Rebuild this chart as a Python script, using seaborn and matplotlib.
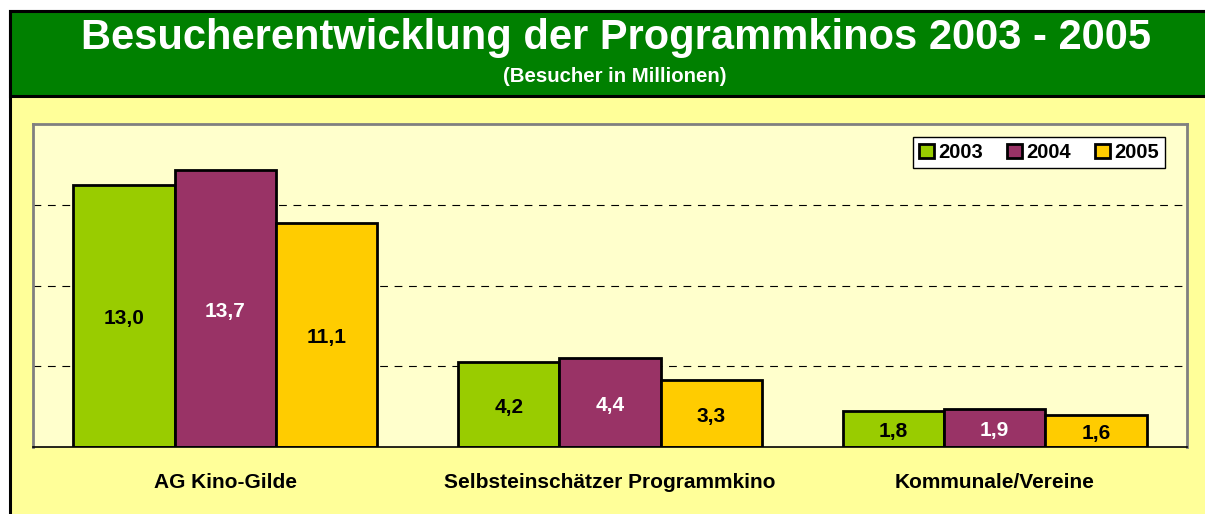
import pandas as pd
import matplotlib
matplotlib.use('Agg')
import matplotlib.pyplot as plt
from matplotlib.patches import Rectangle, Patch
import seaborn as sns

# data
kategorien = ['AG Kino-Gilde', 'Selbsteinschätzer Programmkino', 'Kommunale/Vereine']
jahre = ['2003', '2004', '2005']
besucher_2003 = [13.0, 4.2, 1.8]
besucher_2004 = [13.7, 4.4, 1.9]
besucher_2005 = [11.1, 3.3, 1.6]

farben = ['#99CC00', '#993366', '#FFCC00']
textfarben = ['black', 'white', 'black']

# long format for seaborn
werte = [besucher_2003, besucher_2004, besucher_2005]
rows = []
for jahr, reihe in zip(jahre, werte):
    for kat, v in zip(kategorien, reihe):
        rows.append({'Kategorie': kat, 'Jahr': jahr, 'Besucher': v})
df = pd.DataFrame(rows)

sns.set_style('white')
plt.rcParams['font.family'] = ['Liberation Sans', 'DejaVu Sans']
plt.rcParams['text.color'] = 'black'
plt.rcParams['xtick.color'] = 'black'

W, H = 1205, 514
fig = plt.figure(figsize=(W / 100, H / 100), dpi=100, facecolor='white')

# yellow frame and green header band (behind the axes)
fig.patches.append(Rectangle((10 / W, -0.1), 1.2, 1 - 11 / H + 0.1, transform=fig.transFigure,
                             facecolor='#FFFF99', edgecolor='black', linewidth=2.2, zorder=-10))
fig.patches.append(Rectangle((10 / W, 1 - 96 / H), 1.2, 85 / H, transform=fig.transFigure,
                             facecolor='#008000', edgecolor='black', linewidth=2.2, zorder=-9))
fig.text(616 / W, 1 - 49 / H, 'Besucherentwicklung der Programmkinos 2003 - 2005',
         ha='center', va='baseline', color='white', fontsize=30, fontweight='bold')
fig.text(615 / W, 1 - 82 / H, '(Besucher in Millionen)',
         ha='center', va='baseline', color='white', fontsize=14.7, fontweight='bold')

ax = fig.add_axes([33 / W, 1 - 447 / H, (1187 - 33) / W, 323 / H])
ax.set_facecolor('#FFFFCC')

sns.barplot(data=df, x='Kategorie', y='Besucher', hue='Jahr', palette=farben, saturation=1,
            width=0.79, edgecolor='black', linewidth=2, ax=ax, legend=False)

for cont, reihe, tf in zip(ax.containers, werte, textfarben):
    anns = ax.bar_label(cont, labels=[f'{v:.1f}'.replace('.', ',') for v in reihe],
                        label_type='center', color=tf, fontsize=15, fontweight='bold')
    for a in anns:
        a.xyann = (0, -2)  # labels sit a bit below the middle

ax.set_ylim(0, 16)
ax.set_xlim(-0.5, 2.5)
ax.set_yticks([4, 8, 12])
ax.set_yticklabels([])
ax.tick_params(axis='y', length=0)
ax.yaxis.grid(True, color='black', linestyle=(0, (7, 6)), linewidth=0.8)
ax.set_axisbelow(True)

ax.set_xticks([0, 1, 2])
ax.set_xticklabels(kategorien, fontsize=15, fontweight='bold', color='black')
ax.tick_params(axis='x', which='major', length=0, pad=19)
ax.set_xticks([-0.5, 0.5, 1.5, 2.5], minor=True)
ax.tick_params(axis='x', which='minor', length=4, width=1, direction='out', color='#333333')
ax.set_xlabel('')
ax.set_ylabel('')

for s in ['left', 'right', 'top']:
    ax.spines[s].set_color('#808080')
    ax.spines[s].set_linewidth(2)
ax.spines['bottom'].set_color('black')
ax.spines['bottom'].set_linewidth(1.2)

handles = [Patch(facecolor=f, edgecolor='black', linewidth=2) for f in farben]
leg = ax.legend(handles, jahre, loc='upper right', bbox_to_anchor=(0.981, 0.960),
                borderaxespad=0, ncol=3, frameon=True, fancybox=False,
                handlelength=0.75, handleheight=0.75, handletextpad=0.2,
                columnspacing=1.2, borderpad=0.3, labelcolor='black',
                prop={'weight': 'bold', 'size': 14.5})
leg.get_frame().set_edgecolor('black')
leg.get_frame().set_facecolor('white')
leg.get_frame().set_linewidth(1)
leg.get_frame().set_alpha(1)

fig.savefig('out.png', dpi=100, facecolor=fig.get_facecolor())
